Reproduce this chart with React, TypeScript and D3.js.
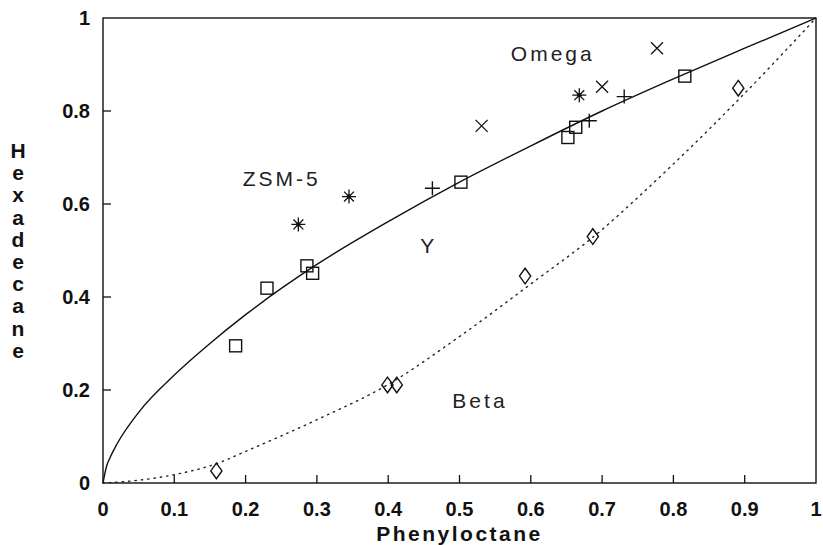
import React from 'react'
import * as d3 from 'd3'

// values
const squareX = [0.186, 0.23, 0.286, 0.294, 0.502, 0.652, 0.663, 0.816]
const squareY = [0.295, 0.419, 0.467, 0.451, 0.647, 0.743, 0.765, 0.875]

const starX = [0.274, 0.345, 0.668]
const starY = [0.556, 0.616, 0.834]

const plusX = [0.462, 0.682, 0.731]
const plusY = [0.634, 0.779, 0.831]

const crossX = [0.531, 0.7, 0.777]
const crossY = [0.768, 0.852, 0.935]

const diamondX = [0.159, 0.399, 0.412, 0.592, 0.687, 0.891]
const diamondY = [0.026, 0.211, 0.211, 0.445, 0.53, 0.849]

// fitted curves
const solidX = [0, 0.005, 0.01, 0.02, 0.05, 0.1, 0.15, 0.2, 0.3, 0.4, 0.5, 0.6, 0.7, 0.8, 0.9, 1]
const solidY = [0, 0.036, 0.055, 0.085, 0.152, 0.232, 0.30, 0.362, 0.47, 0.562, 0.647, 0.725, 0.80, 0.869, 0.935, 1]

const dottedX = [0, 0.05, 0.1, 0.16, 0.2, 0.3, 0.4, 0.5, 0.6, 0.7, 0.75, 0.8, 0.9, 1]
const dottedY = [0, 0.006, 0.018, 0.042, 0.068, 0.136, 0.212, 0.315, 0.428, 0.545, 0.614, 0.686, 0.838, 1]

const xTicks = [0, 0.1, 0.2, 0.3, 0.4, 0.5, 0.6, 0.7, 0.8, 0.9, 1]
const xTickLabels = ['0', '0.1', '0.2', '0.3', '0.4', '0.5', '0.6', '0.7', '0.8', '0.9', '1']
const yTicks = [0, 0.2, 0.4, 0.6, 0.8, 1]
const yTickLabels = ['0', '0.2', '0.4', '0.6', '0.8', '1']

const labels = [
  { text: 'Omega', x: 0.572, y: 0.907 },
  { text: 'ZSM-5', x: 0.196, y: 0.639 },
  { text: 'Y', x: 0.445, y: 0.495 },
  { text: 'Beta', x: 0.49, y: 0.161 },
]

const yTitle = 'Hexadecane'
const xTitle = 'Phenyloctane'

const width = 823
const height = 545
const left = 103
const right = 816
const top = 18
const bottom = 483

export default function App() {
  const x = d3.scaleLinear().domain([0, 1]).range([left, right])
  const y = d3.scaleLinear().domain([0, 1]).range([bottom, top])

  const line = d3.line<number>()
    .x(d => x(d))
    .curve(d3.curveMonotoneX)

  const solidPath = d3.line<number>()
    .x((d, i) => x(solidX[i]))
    .y(d => y(d))
    .curve(d3.curveMonotoneX)(solidY)
  const dottedPath = d3.line<number>()
    .x((d, i) => x(dottedX[i]))
    .y(d => y(d))
    .curve(d3.curveMonotoneX)(dottedY)
  void line

  const sq = 6
  const star = 7
  const s45 = star * 0.7071

  const tickFont = { fontFamily: 'Liberation Sans, Arial, sans-serif', fontWeight: 'bold', fontSize: 20, fill: '#111' }
  const labelFont = { fontFamily: 'Liberation Sans, Arial, sans-serif', fontSize: 21, fill: '#222', letterSpacing: 3 }

  return (
    <svg width={width} height={height} style={{ position: 'absolute', left: 0, top: 0, background: '#fff' }}>
      <rect x={left} y={top} width={right - left} height={bottom - top} fill="none" stroke="#111" strokeWidth={1.4} />

      {xTicks.map((t, i) => (
        <g key={'xt' + i}>
          {i > 0 && i < xTicks.length - 1 && (
            <line x1={x(t)} x2={x(t)} y1={bottom} y2={bottom - 8} stroke="#111" strokeWidth={1.3} />
          )}
          <text x={x(t)} y={516} textAnchor="middle" {...tickFont}>{xTickLabels[i]}</text>
        </g>
      ))}
      {yTicks.map((t, i) => (
        <g key={'yt' + i}>
          {i > 0 && i < yTicks.length - 1 && (
            <line x1={left} x2={left + 8} y1={y(t)} y2={y(t)} stroke="#111" strokeWidth={1.3} />
          )}
          <text x={90} y={y(t) + 7} textAnchor="end" {...tickFont}>{yTickLabels[i]}</text>
        </g>
      ))}

      <text x={(left + right) / 2 + 0} y={541} textAnchor="middle" {...tickFont} fontSize={21} letterSpacing={2.5}>{xTitle}</text>
      {yTitle.split('').map((c, i) => (
        <text key={'yl' + i} x={18} y={158 + i * 22.2} textAnchor="middle" {...tickFont} fontSize={21}>{c}</text>
      ))}

      <path d={solidPath || ''} fill="none" stroke="#111" strokeWidth={1.4} />
      <path d={dottedPath || ''} fill="none" stroke="#222" strokeWidth={1.4} strokeDasharray="1.4 5" strokeLinecap="round" />

      {squareY.map((v, i) => (
        <rect key={'sq' + i} x={x(squareX[i]) - sq} y={y(v) - sq} width={sq * 2} height={sq * 2}
          fill="none" stroke="#111" strokeWidth={1.4} />
      ))}
      {diamondY.map((v, i) => {
        const cx = x(diamondX[i]), cy = y(v)
        return (
          <path key={'dm' + i} d={`M${cx},${cy - 7.8}L${cx + 5.6},${cy}L${cx},${cy + 7.8}L${cx - 5.6},${cy}Z`}
            fill="none" stroke="#111" strokeWidth={1.4} />
        )
      })}
      {starY.map((v, i) => {
        const cx = x(starX[i]), cy = y(v)
        return (
          <g key={'st' + i} stroke="#111" strokeWidth={1.3}>
            <path d={`M${cx},${cy - star}V${cy + star}M${cx - star},${cy}H${cx + star}M${cx - s45},${cy - s45}L${cx + s45},${cy + s45}M${cx - s45},${cy + s45}L${cx + s45},${cy - s45}`} />
            <circle cx={cx} cy={cy} r={2.2} fill="#111" stroke="none" />
          </g>
        )
      })}
      {plusY.map((v, i) => {
        const cx = x(plusX[i]), cy = y(v)
        return (
          <path key={'pl' + i} d={`M${cx},${cy - 7}V${cy + 7}M${cx - 7.5},${cy}H${cx + 7.5}`} stroke="#111" strokeWidth={1.4} />
        )
      })}
      {crossY.map((v, i) => {
        const cx = x(crossX[i]), cy = y(v)
        return (
          <path key={'cr' + i} d={`M${cx - 6},${cy - 6}L${cx + 6},${cy + 6}M${cx - 6},${cy + 6}L${cx + 6},${cy - 6}`} stroke="#111" strokeWidth={1.3} />
        )
      })}

      {labels.map((l, i) => (
        <text key={'lb' + i} x={x(l.x)} y={y(l.y)} {...labelFont}>{l.text}</text>
      ))}
    </svg>
  )
}
